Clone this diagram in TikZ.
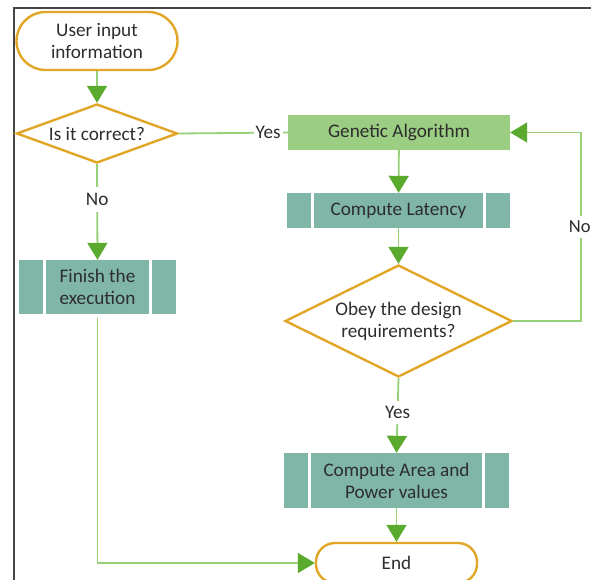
\documentclass[tikz,border=0pt]{standalone}
\usepackage{fontspec}
\setmainfont{Carlito}
\usetikzlibrary{arrows.meta,shapes.geometric}
\definecolor{orng}{RGB}{226,166,38}
\definecolor{tealf}{RGB}{127,182,168}
\definecolor{gaf}{RGB}{155,205,130}
\definecolor{lgreen}{RGB}{150,208,120}
\definecolor{agreen}{RGB}{90,170,45}
\definecolor{txt}{RGB}{45,45,45}
\definecolor{frm}{RGB}{70,70,70}
\tikzset{
  base/.style={font=\fontsize{19.2}{22}\selectfont, text=txt, align=center, inner sep=0pt},
  term/.style={base, draw=orng, line width=2.4pt, rounded corners=19pt, minimum width=#1},
  decide/.style={base, diamond, draw=orng, line width=2.4pt},
  gabox/.style={base, fill=gaf, minimum width=222pt, minimum height=35pt},
  predef/.style={base, fill=tealf},
  gap/.style={draw=white, line width=3pt},
  conn/.style={draw=lgreen, line width=1.8pt},
  arr/.style={conn, -{Triangle[width=20pt,length=17pt,color=agreen]}},
  lbl/.style={base, fill=white, inner sep=3pt}
}
\begin{document}
\begin{tikzpicture}[x=1pt,y=-1pt]
\useasboundingbox (0,0) rectangle (591,580);
\begin{scope}
\clip (0,0) rectangle (591,580);
% frame
\draw[frm, line width=2pt] (14,580) -- (14,8) -- (591,8);
% nodes
\node[term=161pt, minimum height=58pt, rounded corners=29pt] (uin) at (97,41) {User input\\information};
\node[decide, aspect=2.73, minimum width=161pt, minimum height=59pt] (d1) at (97,133.5) {Is it correct?};
\node[predef, minimum width=157pt, minimum height=54pt] (fin) at (97.5,287) {Finish the\\execution};
\node[gabox] (ga) at (399,132.5) {Genetic Algorithm};
\node[predef, minimum width=223pt, minimum height=35pt] (lat) at (398.5,210.5) {Compute Latency};
\node[decide, aspect=2.03, minimum width=227pt, minimum height=112pt] (d2) at (398.5,321) {Obey the design\\requirements?};
\node[predef, minimum width=225pt, minimum height=55pt] (area) at (396.5,480.5) {Compute Area and\\Power values};
\node[term=161pt, minimum height=40pt] (end) at (396.5,563) {End};
% gaps in predefined-process boxes
\foreach \n in {fin,lat,area}{
  \draw[gap] ([xshift=25.5pt]\n.north west) -- ([xshift=25.5pt]\n.south west);
  \draw[gap] ([xshift=-26pt]\n.north east) -- ([xshift=-26pt]\n.south east);
}
% connectors
\draw[arr] (uin) -- (d1);
\draw[conn] (d1.east) -- node[lbl, pos=0.82, inner sep=2pt] {Yes} (ga.west);
\draw[arr] (d1.south) -- node[lbl, pos=0.37, inner sep=6pt] {No} (fin.north);
\draw[arr, shorten <=4pt] (fin.south) |- (end.west);
\draw[arr] (ga) -- (lat);
\draw[arr] (lat) -- (d2.north);
\draw[arr] (d2.east) -- ++(68,0) |- node[lbl, pos=0.25, inner sep=5pt, inner xsep=1pt, xshift=-1.5pt, font=\fontsize{18.5}{22}\selectfont] {No} (ga.east);
\draw[arr] (d2.south) -- node[lbl, pos=0.46, inner sep=5pt] {Yes} (area.north);
\draw[arr] (area) -- (end);
\end{scope}
\end{tikzpicture}
\end{document}
